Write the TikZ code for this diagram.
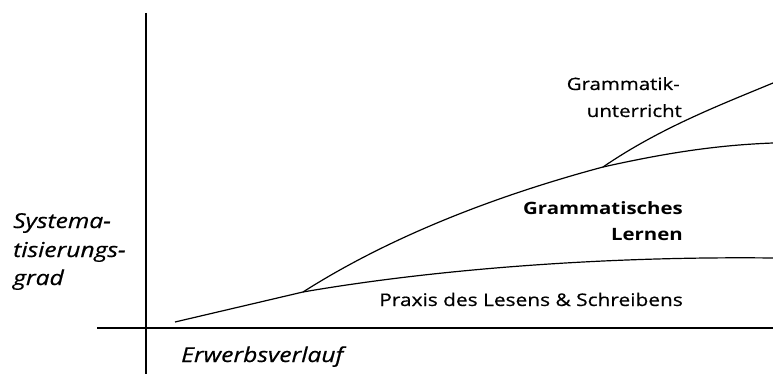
\documentclass[tikz,border=0pt]{standalone}
\usepackage{fontspec}
\setmainfont{Open Sans}
\newfontfamily\lblfont[FakeStretch=1.2,FakeBold=0.6]{Open Sans}
\newfontfamily\lblbfont[FakeStretch=1.2]{Open Sans}
\begin{document}
\begin{tikzpicture}[x=1pt,y=-1pt,
  axis/.style={line width=1.9pt},
  curve/.style={line width=1.2pt},
  lbl/.style={font=\lblfont\fontsize{17}{26}\selectfont, inner sep=0pt, anchor=base east},
  blbl/.style={font=\lblbfont\fontsize{17}{26}\selectfont\bfseries, inner sep=0pt, anchor=base east},
  ital/.style={font=\lblfont\fontsize{20.5}{28}\selectfont\itshape, inner sep=0pt, anchor=base west}]
\useasboundingbox (0,0) rectangle (773,374);
% axes
\coordinate (ytop) at (146,13);
\coordinate (ybot) at (146,374);
\coordinate (xl) at (97,328);
\coordinate (xr) at (773,328);
\draw[axis] (ytop) -- (ybot);
\draw[axis] (xl) -- (xr);
% curve points
\coordinate (s) at (175,322);
\coordinate (b1) at (303,292);
\coordinate (b2) at (603,167);
\coordinate (e1) at (773,258);
\coordinate (e2) at (773,143);
\coordinate (e3) at (773,83);
\draw[curve] (s) -- (b1);
\draw[curve] (b1) .. controls (430,270) and (600,256) .. (e1);
\draw[curve] (b1) .. controls (380,243) and (480,200) .. (b2);
\draw[curve] (b2) .. controls (670,152) and (720,145) .. (e2);
\draw[curve] (b2) .. controls (660,128) and (720,105) .. (e3);
% labels
\node[lbl] (gu1) at (680,90) {Grammatik-};
\node[lbl] (gu2) at (682,117) {unterricht};
\node[blbl] (gl1) at (683,214) {Grammatisches};
\node[blbl] (gl2) at (683,240) {Lernen};
\node[lbl, font=\lblfont\fontsize{17.4}{26}\selectfont] (px) at (683,306) {Praxis des Lesens \& Schreibens};
\node[ital] (sg1) at (13,228) {Systema-};
\node[ital] (sg2) at (13,257) {tisierungs-};
\node[ital] (sg3) at (13,285) {grad};
\node[ital] (ev) at (181,362) {Erwerbsverlauf};
\end{tikzpicture}
\end{document}
